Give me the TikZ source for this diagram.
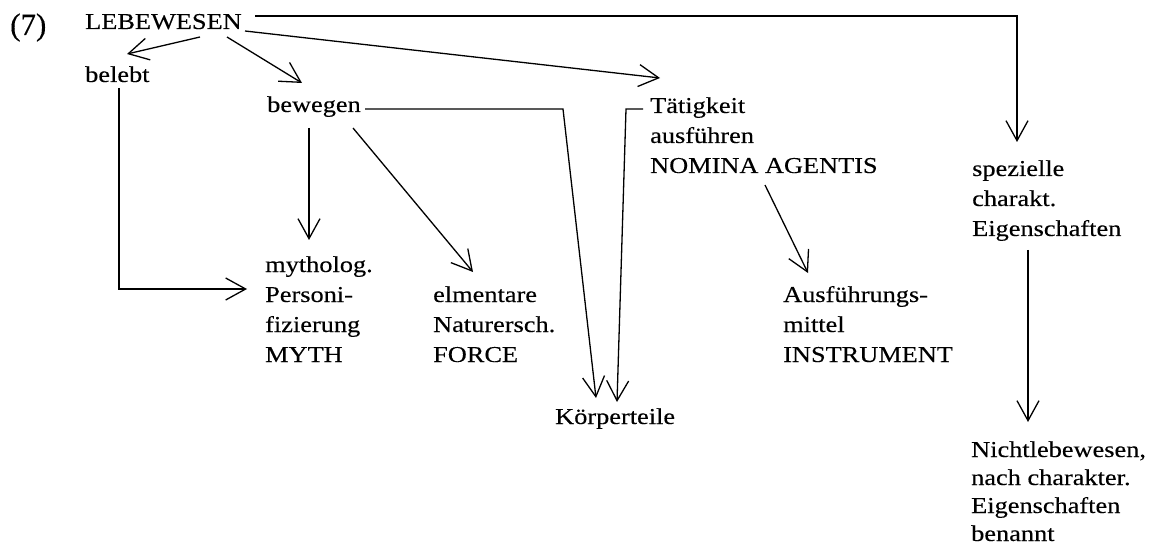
\documentclass[tikz,border=0pt]{standalone}
\usepackage{fontspec}
\setmainfont{Liberation Serif}[FakeStretch=1.16,FakeBold=0.25]
\newfontfamily\numfont{Liberation Serif}[FakeBold=0.25]
\usetikzlibrary{arrows.meta}
\tikzset{
  txt/.style={anchor=base west, inner sep=0pt, align=left, font=\fontsize{22.7pt}{30pt}\selectfont},
  txtb/.style={txt, font=\fontsize{22.7pt}{28pt}\selectfont},
  numtxt/.style={anchor=base west, inner sep=0pt, font=\numfont\fontsize{31pt}{36pt}\selectfont},
  ln/.style={line width=1.3pt},
  arr/.style={ln, -{Straight Barb[length=20pt,width=22pt,line width=1.3pt]}}
}
\begin{document}
\begin{tikzpicture}[x=1pt,y=-1pt]
\useasboundingbox (0,0) rectangle (1153,553);
% base anchor of multi-line nodes = baseline of last line
\node[numtxt] (n7) at (10,35) {(7)};
\node[txt] (leb) at (85,29) {LEBEWESEN};
\node[txt] (bel) at (85,82) {belebt};
\node[txt] (bew) at (267,112) {bewegen};
\node[txt] (tat) at (650,173) {Tätigkeit\\ausführen\\NOMINA AGENTIS};
\node[txt] (spez) at (972,236) {spezielle\\charakt.\\Eigenschaften};
\node[txt] (myth) at (265,362) {mytholog.\\Personi-\\fizierung\\MYTH};
\node[txt] (elm) at (433,362) {elmentare\\Naturersch.\\FORCE};
\node[txt] (aus) at (783,362) {Ausführungs-\\mittel\\INSTRUMENT};
\node[txt] (kor) at (555,424) {Körperteile};
\node[txtb] (nicht) at (971,541) {Nichtlebewesen,\\nach charakter.\\Eigenschaften\\benannt};
% connectors
\draw[arr] ([shift={(115,8)}]leb.base west) -- ([shift={(42,-28)}]bel.base west);
\draw[arr] ([shift={(142,8)}]leb.base west) -- ([shift={(35,-29)}]bew.base west);
\draw[arr] ([shift={(160,2)}]leb.base west) -- ([shift={(10,-95)}]tat.base west);
\draw[arr] ([shift={(170,-13)}]leb.base west) -| ([shift={(45,-94)}]spez.base west);
\draw[arr] ([shift={(34,6)}]bel.base west) |- ([shift={(-18,-73)}]myth.base west);
\draw[arr] ([shift={(42,16)}]bew.base west) -- ([shift={(44,-122)}]myth.base west);
\draw[arr] ([shift={(86,16)}]bew.base west) -- ([shift={(40,-90)}]elm.base west);
\draw[arr] ([shift={(98,-3)}]bew.base west) -- ([shift={(8,-315)}]kor.base west) -- ([shift={(41,-26)}]kor.base west);
\draw[arr] ([shift={(-7,-64)}]tat.base west) -- ([shift={(71,-315)}]kor.base west) -- ([shift={(62,-22)}]kor.base west);
\draw[arr] ([shift={(115,12)}]tat.base west) -- ([shift={(25,-89)}]aus.base west);
\draw[arr] ([shift={(56,14)}]spez.base west) -- ([shift={(57,-119)}]nicht.base west);
\end{tikzpicture}
\end{document}
